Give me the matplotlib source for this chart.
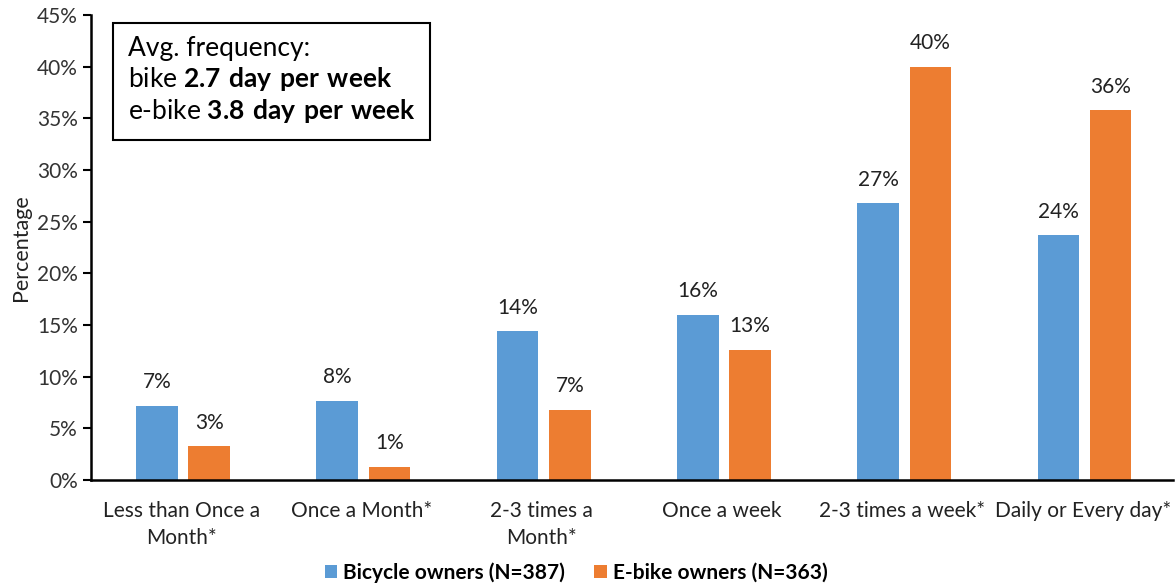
import matplotlib.pyplot as plt
import numpy as np
from matplotlib.ticker import PercentFormatter

plt.rcParams['font.family'] = ['Lato', 'DejaVu Sans']
plt.rcParams['mathtext.fontset'] = 'custom'
plt.rcParams['mathtext.rm'] = 'Lato'
plt.rcParams['mathtext.bf'] = 'Lato:bold'

categories = ["Less than Once a\nMonth*", "Once a Month*", "2-3 times a\nMonth*",
              "Once a week", "2-3 times a week*", "Daily or Every day*"]
bicycle = [7.2, 7.7, 14.4, 16.0, 26.8, 23.7]
ebike = [3.3, 1.3, 6.8, 12.6, 40.0, 35.8]
series_names = ["Bicycle owners (N=387)", "E-bike owners (N=363)"]

blue = "#5B9BD5"
orange = "#ED7D31"

fig = plt.figure(figsize=(11.76, 5.84), dpi=100)
ax = fig.add_axes([0.0774, 0.178, 0.92, 0.796])

x = np.arange(len(categories))
w = 0.23
off = 0.145
b1 = ax.bar(x - off + 0.01, bicycle, w, color=blue, label=series_names[0])
b2 = ax.bar(x + off + 0.01, ebike, w, color=orange, label=series_names[1])

for bars in (b1, b2):
    for rect in bars:
        h = rect.get_height()
        ax.text(rect.get_x() + rect.get_width() / 2, h + 1.3, f"{h:.0f}%",
                ha='center', va='bottom', fontsize=15, color='#222222')

ax.set_xlim(-0.5, 5.5)
ax.set_ylim(0, 45)
ax.set_yticks(np.arange(0, 46, 5))
ax.yaxis.set_major_formatter(PercentFormatter(decimals=0))
ax.set_xticks(x)
ax.set_xticklabels(categories, fontsize=15, color='#222222', linespacing=1.45)
ax.tick_params(axis='x', length=0, pad=15)
ax.tick_params(axis='y', labelsize=15, labelcolor='#333333', length=6, width=1.5, direction='out')
ax.set_ylabel("Percentage", fontsize=15.5, color='#222222', labelpad=4)

for s in ('top', 'right'):
    ax.spines[s].set_visible(False)
for s in ('left', 'bottom'):
    ax.spines[s].set_linewidth(1.8)
    ax.spines[s].set_color('black')

box_txt = ("Avg. frequency:\n"
           "bike $\\bf{2.7\\ day\\ per\\ week}$\n"
           "e-bike $\\bf{3.8\\ day\\ per\\ week}$")
ax.text(0.034, 0.955, box_txt, transform=ax.transAxes, fontsize=19, va='top', ha='left',
        linespacing=1.18, color='black',
        bbox=dict(boxstyle='square,pad=0.55', facecolor='white', edgecolor='black', linewidth=1.5))

fig.legend(handles=[b1, b2], loc='lower center', bbox_to_anchor=(0.49, -0.03), ncol=2,
           frameon=False, prop={'weight': 'bold', 'size': 15}, handlelength=0.6,
           handleheight=0.6, handletextpad=0.3, columnspacing=1.4)

fig.savefig("out.png", dpi=100)
